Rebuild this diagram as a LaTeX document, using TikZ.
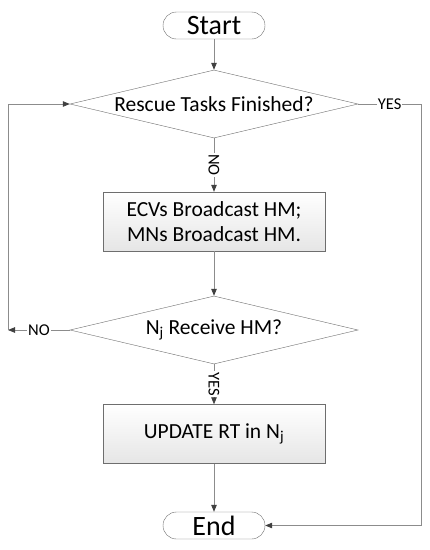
\documentclass[tikz,border=0pt]{standalone}
\usepackage{fontspec}
\setmainfont{Carlito}
\usetikzlibrary{shapes.geometric,arrows.meta}
\definecolor{edgegray}{HTML}{6E6E6E}
\definecolor{linegray}{HTML}{8C8C8C}
\definecolor{tipgray}{HTML}{404040}
\begin{document}
\begin{tikzpicture}[x=1pt,y=-1pt,
  bigtext/.style={font=\fontsize{21.5}{25}\selectfont},
  termtext/.style={font=\fontsize{28}{30}\selectfont},
  term/.style={draw=edgegray,fill=white,rounded corners=13.5pt,minimum width=102pt,minimum height=27pt,inner sep=0pt,termtext},
  dec/.style={draw=edgegray,fill=white,shape=diamond,minimum width=288pt,minimum height=68pt,inner sep=0pt},
  proc/.style={draw=edgegray,top color=white,bottom color=black!10,minimum width=222pt,minimum height=59pt,inner sep=0pt,align=center,bigtext},
  conn/.style={draw=linegray,line width=0.8pt,-{Triangle[length=7pt,width=5.5pt,fill=tipgray,color=tipgray]}},
  plain/.style={draw=linegray,line width=0.8pt},
  lab/.style={fill=white,inner sep=1pt,font=\fontsize{16.5}{18}\selectfont}
]
\useasboundingbox (0,0) rectangle (430,550);
\node[term] (start) at (214,25.5) {Start};
\node[dec,label={[bigtext]center:Rescue Tasks Finished?}] (d1) at (214,104) {};
\node[proc] (b1) at (214,221.5) {ECVs Broadcast HM;\\MNs Broadcast HM.};
\node[dec,label={[bigtext]center:N\textsubscript{j} Receive HM?}] (d2) at (214,330) {};
\node[proc] (b2) at (214,434) {UPDATE RT in N\textsubscript{j}};
\node[term] (end) at (214,525.5) {End};
\coordinate (lp) at (8,330);
\coordinate (rp) at (421,104);

\draw[conn] (start) -- (d1);
\draw[conn] (d1) -- node[lab,rotate=-90]{NO} (b1);
\draw[conn] (b1) -- (d2);
\draw[conn] (d2) -- node[lab,rotate=-90]{YES} (b2);
\draw[conn] (b2) -- (end);
\draw[plain] (d1.east) -- node[lab]{YES} (rp);
\draw[conn] (rp) |- (end.east);
\draw[conn] (d2.west) -- node[lab]{NO} (lp);
\draw[conn] (lp) |- (d1.west);
\end{tikzpicture}
\end{document}
